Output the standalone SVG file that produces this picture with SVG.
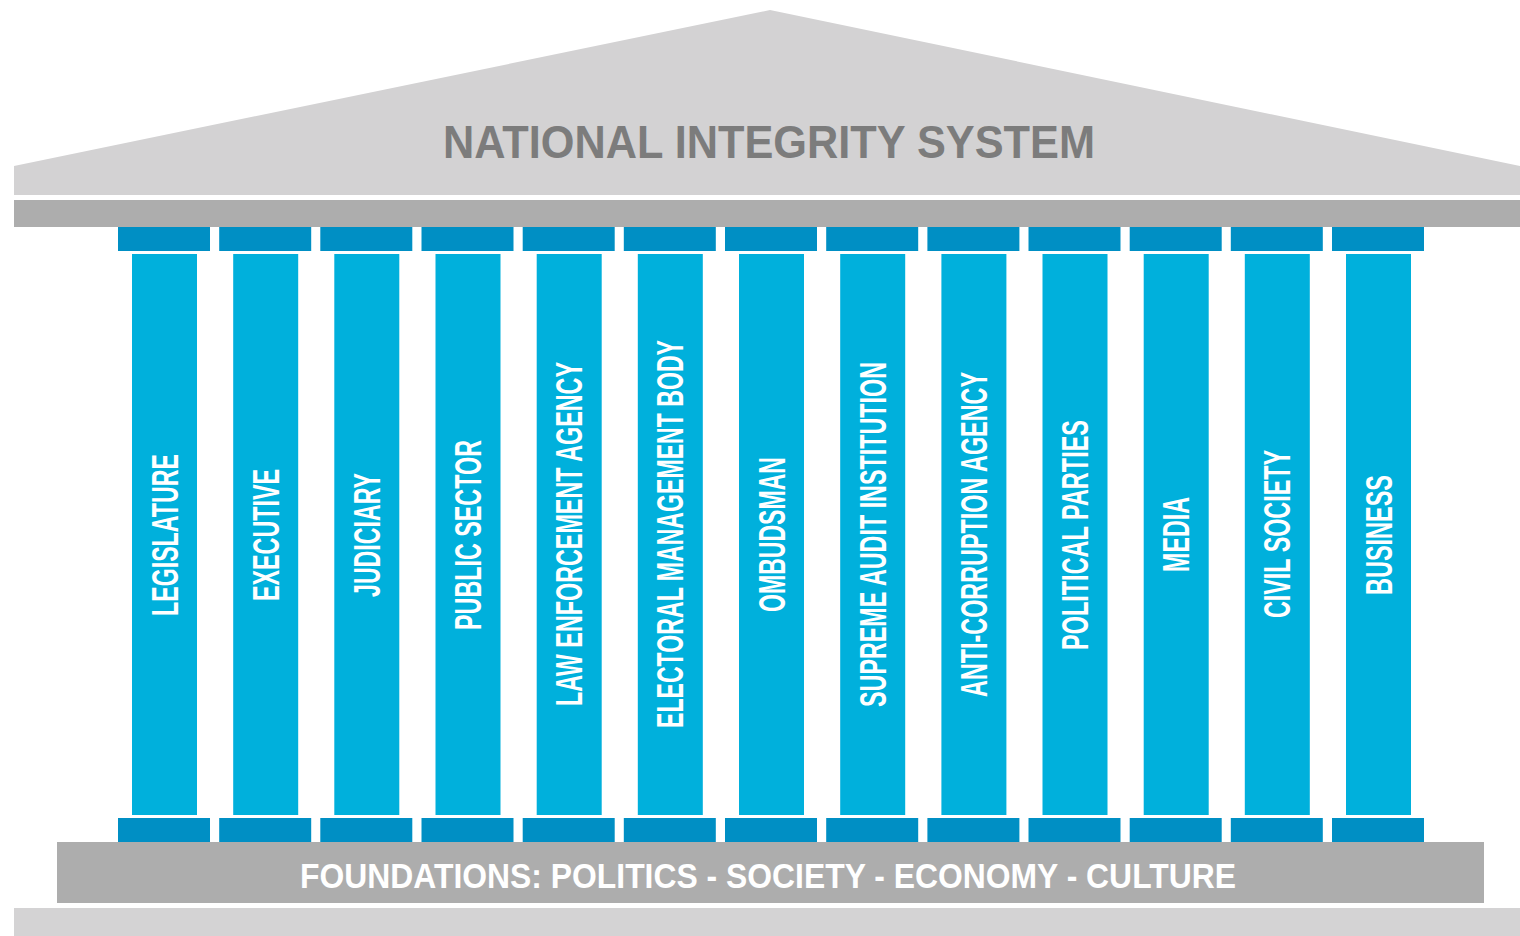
<svg xmlns="http://www.w3.org/2000/svg" width="1520" height="936" viewBox="0 0 1520 936">
<style>
.roof{fill:#d3d2d3}
.band{fill:#adadad}
.cap{fill:#008fc4}
.shaft{fill:#00b0dc}
.lbl{font-family:"Liberation Sans",Arial,sans-serif;font-weight:bold;font-size:37px;fill:#ffffff;text-anchor:middle}
.title{font-family:"Liberation Sans",Arial,sans-serif;font-weight:bold;font-size:47px;fill:#7c7c7c;text-anchor:middle}
.found{font-family:"Liberation Sans",Arial,sans-serif;font-weight:bold;font-size:35px;fill:#ffffff;text-anchor:middle}
</style>
<rect width="1520" height="936" fill="#ffffff"/>
<g id="roof">
<polygon class="roof" points="14,166 770,10 1520,166 1520,195 14,195"/>
<text class="title" x="769" y="158" textLength="652" lengthAdjust="spacingAndGlyphs">NATIONAL INTEGRITY SYSTEM</text>
</g>
<g id="architrave"><rect class="band" x="14" y="200" width="1506" height="27"/></g>
<g id="foundation">
<rect class="band" x="57" y="842" width="1427" height="61"/>
<text class="found" x="768" y="888" textLength="936" lengthAdjust="spacingAndGlyphs">FOUNDATIONS: POLITICS - SOCIETY - ECONOMY - CULTURE</text>
</g>
<g id="ground"><rect x="14" y="908" width="1506" height="28" fill="#d4d3d4"/></g>
<g id="p1"><rect class="cap" x="118" y="227" width="92" height="24"/><rect class="shaft" x="132" y="254" width="65" height="561"/><rect class="cap" x="118" y="818" width="92" height="24"/><text class="lbl" transform="translate(177.5,535) rotate(-90)" textLength="162" lengthAdjust="spacingAndGlyphs">LEGISLATURE</text></g>
<g id="p2"><rect class="cap" x="219.2" y="227" width="92" height="24"/><rect class="shaft" x="233.2" y="254" width="65" height="561"/><rect class="cap" x="219.2" y="818" width="92" height="24"/><text class="lbl" transform="translate(278.7,535) rotate(-90)" textLength="132" lengthAdjust="spacingAndGlyphs">EXECUTIVE</text></g>
<g id="p3"><rect class="cap" x="320.3" y="227" width="92" height="24"/><rect class="shaft" x="334.3" y="254" width="65" height="561"/><rect class="cap" x="320.3" y="818" width="92" height="24"/><text class="lbl" transform="translate(379.8,535) rotate(-90)" textLength="124" lengthAdjust="spacingAndGlyphs">JUDICIARY</text></g>
<g id="p4"><rect class="cap" x="421.5" y="227" width="92" height="24"/><rect class="shaft" x="435.5" y="254" width="65" height="561"/><rect class="cap" x="421.5" y="818" width="92" height="24"/><text class="lbl" transform="translate(481,535) rotate(-90)" textLength="190" lengthAdjust="spacingAndGlyphs">PUBLIC SECTOR</text></g>
<g id="p5"><rect class="cap" x="522.7" y="227" width="92" height="24"/><rect class="shaft" x="536.7" y="254" width="65" height="561"/><rect class="cap" x="522.7" y="818" width="92" height="24"/><text class="lbl" transform="translate(582.2,534) rotate(-90)" textLength="344" lengthAdjust="spacingAndGlyphs">LAW ENFORCEMENT AGENCY</text></g>
<g id="p6"><rect class="cap" x="623.8" y="227" width="92" height="24"/><rect class="shaft" x="637.8" y="254" width="65" height="561"/><rect class="cap" x="623.8" y="818" width="92" height="24"/><text class="lbl" transform="translate(683.3,534) rotate(-90)" textLength="388" lengthAdjust="spacingAndGlyphs">ELECTORAL MANAGEMENT BODY</text></g>
<g id="p7"><rect class="cap" x="725" y="227" width="92" height="24"/><rect class="shaft" x="739" y="254" width="65" height="561"/><rect class="cap" x="725" y="818" width="92" height="24"/><text class="lbl" transform="translate(784.5,534.5) rotate(-90)" textLength="155" lengthAdjust="spacingAndGlyphs">OMBUDSMAN</text></g>
<g id="p8"><rect class="cap" x="826.2" y="227" width="92" height="24"/><rect class="shaft" x="840.2" y="254" width="65" height="561"/><rect class="cap" x="826.2" y="818" width="92" height="24"/><text class="lbl" transform="translate(885.7,534.5) rotate(-90)" textLength="345" lengthAdjust="spacingAndGlyphs">SUPREME AUDIT INSTITUTION</text></g>
<g id="p9"><rect class="cap" x="927.4" y="227" width="92" height="24"/><rect class="shaft" x="941.4" y="254" width="65" height="561"/><rect class="cap" x="927.4" y="818" width="92" height="24"/><text class="lbl" transform="translate(986.9,534.5) rotate(-90)" textLength="325" lengthAdjust="spacingAndGlyphs">ANTI-CORRUPTION AGENCY</text></g>
<g id="p10"><rect class="cap" x="1028.5" y="227" width="92" height="24"/><rect class="shaft" x="1042.5" y="254" width="65" height="561"/><rect class="cap" x="1028.5" y="818" width="92" height="24"/><text class="lbl" transform="translate(1088,535) rotate(-90)" textLength="230" lengthAdjust="spacingAndGlyphs">POLITICAL PARTIES</text></g>
<g id="p11"><rect class="cap" x="1129.7" y="227" width="92" height="24"/><rect class="shaft" x="1143.7" y="254" width="65" height="561"/><rect class="cap" x="1129.7" y="818" width="92" height="24"/><text class="lbl" transform="translate(1189.2,534.5) rotate(-90)" textLength="75" lengthAdjust="spacingAndGlyphs">MEDIA</text></g>
<g id="p12"><rect class="cap" x="1230.8" y="227" width="92" height="24"/><rect class="shaft" x="1244.8" y="254" width="65" height="561"/><rect class="cap" x="1230.8" y="818" width="92" height="24"/><text class="lbl" transform="translate(1290.3,534) rotate(-90)" textLength="168" lengthAdjust="spacingAndGlyphs">CIVIL SOCIETY</text></g>
<g id="p13"><rect class="cap" x="1332" y="227" width="92" height="24"/><rect class="shaft" x="1346" y="254" width="65" height="561"/><rect class="cap" x="1332" y="818" width="92" height="24"/><text class="lbl" transform="translate(1391.5,535) rotate(-90)" textLength="120" lengthAdjust="spacingAndGlyphs">BUSINESS</text></g>
<g id="connectors"/>
</svg>
